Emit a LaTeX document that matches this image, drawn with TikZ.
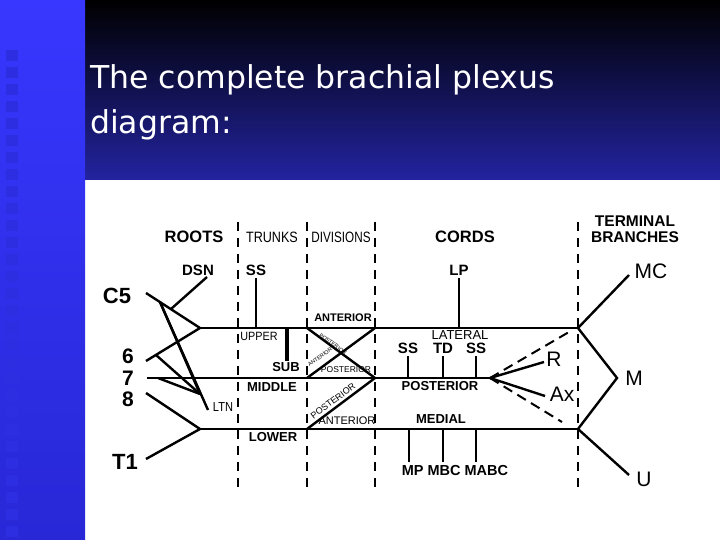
\documentclass[tikz,border=0pt]{standalone}
\usepackage{fontspec}
\setmainfont{Liberation Sans}
\newfontfamily\titlefont{DejaVu Sans}
\definecolor{hdrbot}{RGB}{35,35,160}
\definecolor{stripT}{RGB}{55,55,255}
\definecolor{stripB}{RGB}{40,40,215}
\definecolor{sq}{RGB}{45,45,225}
\begin{document}
\begin{tikzpicture}[x=1pt,y=-1pt,
  nerve/.style={line width=2.4pt},
  dashline/.style={line width=2pt,dash pattern=on 9pt off 7pt},
  hdr/.style={font=\fontsize{16.5}{16.5}\selectfont\bfseries,inner sep=0pt},
  lab/.style={font=\fontsize{15}{15}\selectfont\bfseries,inner sep=0pt},
  slab/.style={font=\fontsize{13}{13}\selectfont\bfseries,inner sep=0pt},
  sml/.style={font=\fontsize{12}{12}\selectfont,inner sep=0pt},
  big/.style={font=\fontsize{22}{22}\selectfont\bfseries,inner sep=0pt},
  tiny/.style={font=\fontsize{5.5}{5.5}\selectfont,inner sep=0pt}]
\useasboundingbox (0,0) rectangle (720,540);
\shade[top color=black,bottom color=hdrbot] (0,0) rectangle (720,180);
\fill[white] (85,180) rectangle (720,540);
\shade[top color=stripT,bottom color=stripB] (0,0) rectangle (85,540);
\foreach \i in {0,...,28} \fill[sq] (6,{50+17*\i}) rectangle (18,{61+17*\i});
\node[anchor=west,text=white,font=\titlefont\fontsize{31.5}{45}\selectfont,align=left,inner sep=0pt] (title) at (90,102) {The complete brachial plexus\\diagram:};
% dashed separators
\foreach \x/\n in {238/da,307/db,375/dc,578/dd} {\coordinate (\n1) at (\x,222); \coordinate (\n2) at (\x,488); \draw[dashline] (\n1) -- (\n2);}
% headers
\node[hdr] (h1) at (194,237) {ROOTS};
\node[sml,font=\fontsize{15}{15}\selectfont,xscale=0.84] (h2) at (272,237) {TRUNKS};
\node[sml,font=\fontsize{15}{15}\selectfont,xscale=0.78] (h3) at (341,237) {DIVISIONS};
\node[hdr] (h4) at (465,237) {CORDS};
\node[hdr,align=center,font=\fontsize{15.5}{16}\selectfont\bfseries] (h5) at (635,229) {TERMINAL\\BRANCHES};
% root labels
\node[big] (c5) at (117,296) {C5};
\node[big,align=center,font=\fontsize{21}{21.5}\selectfont\bfseries] (r678) at (128,378) {6\\7\\8};
\node[big] (t1) at (125,462) {T1};
% junctions
\coordinate (ju) at (200,328); \coordinate (jl) at (200,429);
\coordinate (ue) at (578,328); \coordinate (le) at (578,429);
\coordinate (ms) at (147,378); \coordinate (pe) at (490,378);
\coordinate (c5s) at (146,293); \coordinate (s6) at (146,361);
\coordinate (s8) at (146,393); \coordinate (st1) at (146,459);
\draw[nerve] (c5s) -- (ju) -- (s6);
\draw[nerve] (s8) -- (jl) -- (st1);
\draw[nerve] (ju) -- (ue);
\draw[nerve] (jl) -- (le);
\draw[nerve] (ms) -- (pe);
% DSN, LTN
\node[lab] (dsn) at (198,270) {DSN};
\coordinate (dsnA) at (207,277); \coordinate (dsnB) at (171,309);
\draw[nerve] (dsnA) -- (dsnB);
\coordinate (lt1) at (160,302); \coordinate (lt2) at (208,410); \coordinate (lt3) at (200,394);
\coordinate (lt6) at (156,355); \coordinate (lt7) at (158,378);
\draw[nerve] (lt1) -- (lt2); \draw[nerve] (lt1) -- (lt3); \draw[nerve] (lt6) -- (lt3); \draw[nerve] (lt7) -- (lt3);
\node[sml,font=\fontsize{13}{13}\selectfont,xscale=0.85] (ltn) at (223,407) {LTN};
% trunks
\node[lab] (ss1) at (256,270) {SS};
\coordinate (ssA) at (256,278); \coordinate (ssB) at (256,328);
\draw[line width=1.6pt] (ssA) -- (ssB);
\node[sml,xscale=0.9] (upper) at (259,336) {UPPER};
\coordinate (subA) at (287,328); \coordinate (subB) at (287,361);
\draw[line width=4pt] (subA) -- (subB);
\node[slab] (sub) at (286,367) {SUB};
\node[slab] (middle) at (272,387) {MIDDLE};
\node[slab] (lower) at (273,437) {LOWER};
% divisions
\coordinate (d1) at (307,328); \coordinate (d2) at (375,378); \coordinate (d3) at (307,378);
\coordinate (d4) at (375,328); \coordinate (d5) at (307,429);
\draw[nerve] (d1) -- (d2); \draw[nerve] (d3) -- (d4); \draw[nerve] (d5) -- (d2);
\node[sml,font=\fontsize{11}{11}\selectfont\bfseries] (ant1) at (343,318) {ANTERIOR};
\node[tiny,rotate=-36] (pos1) at (333,344) {POSTERIOR};
\node[tiny,rotate=36] (ant2) at (320,357) {ANTERIOR};
\node[sml,font=\fontsize{8.5}{8.5}\selectfont] (pos2) at (346,370) {POSTERIOR};
\node[sml,font=\fontsize{9}{9}\selectfont,rotate=37] (pos3) at (333,401) {POSTERIOR};
\node[sml,font=\fontsize{11}{11}\selectfont] (ant3) at (347,421) {ANTERIOR};
% cords
\node[lab] (lp) at (459,270) {LP};
\coordinate (lpA) at (459,278); \coordinate (lpB) at (459,328);
\draw[line width=1.6pt] (lpA) -- (lpB);
\node[sml,font=\fontsize{13}{13}\selectfont] (lat) at (460,335) {LATERAL};
\foreach \x/\t/\n in {408/SS/pa,443/TD/pb,476/SS/pc} {\node[lab] (\n) at (\x,348) {\t}; \coordinate (\n1) at (\x,356); \coordinate (\n2) at (\x,378); \draw[line width=1.6pt] (\n1) -- (\n2);}
\node[slab] (post) at (440,386) {POSTERIOR};
\node[slab] (med) at (441,419) {MEDIAL};
\node[lab,font=\fontsize{14.5}{14.5}\selectfont\bfseries] (mlab) at (455,471) {MP MBC MABC};
\foreach \x/\n in {409/ma,443/mb,476/mc} {\coordinate (\n1) at (\x,429); \coordinate (\n2) at (\x,462); \draw[line width=1.6pt] (\n1) -- (\n2);}
% R and Ax
\node[big,font=\fontsize{21}{21}\selectfont] (R) at (554,359) {R};
\node[big,font=\fontsize{21}{21}\selectfont] (Ax) at (562,394) {Ax};
\coordinate (rr) at (544,362); \coordinate (ax) at (545,396);
\draw[nerve] (pe) -- (rr); \draw[nerve] (pe) -- (ax);
\coordinate (dA) at (569,332); \coordinate (dB) at (562,422);
\draw[dashline,dash pattern=on 10pt off 6pt] (pe) -- (dA);
\draw[dashline,dash pattern=on 10pt off 6pt] (pe) -- (dB);
% terminals
\node[big,font=\fontsize{21}{21}\selectfont] (mc) at (651,271) {MC};
\node[big,font=\fontsize{21}{21}\selectfont] (m) at (634,378) {M};
\node[big,font=\fontsize{21}{21}\selectfont] (u) at (644,479) {U};
\coordinate (mcE) at (629,275); \coordinate (mE) at (617,378); \coordinate (uE) at (629,475);
\draw[nerve] (ue) -- (mcE); \draw[nerve] (ue) -- (mE) -- (le) -- (uE);
\end{tikzpicture}
\end{document}
